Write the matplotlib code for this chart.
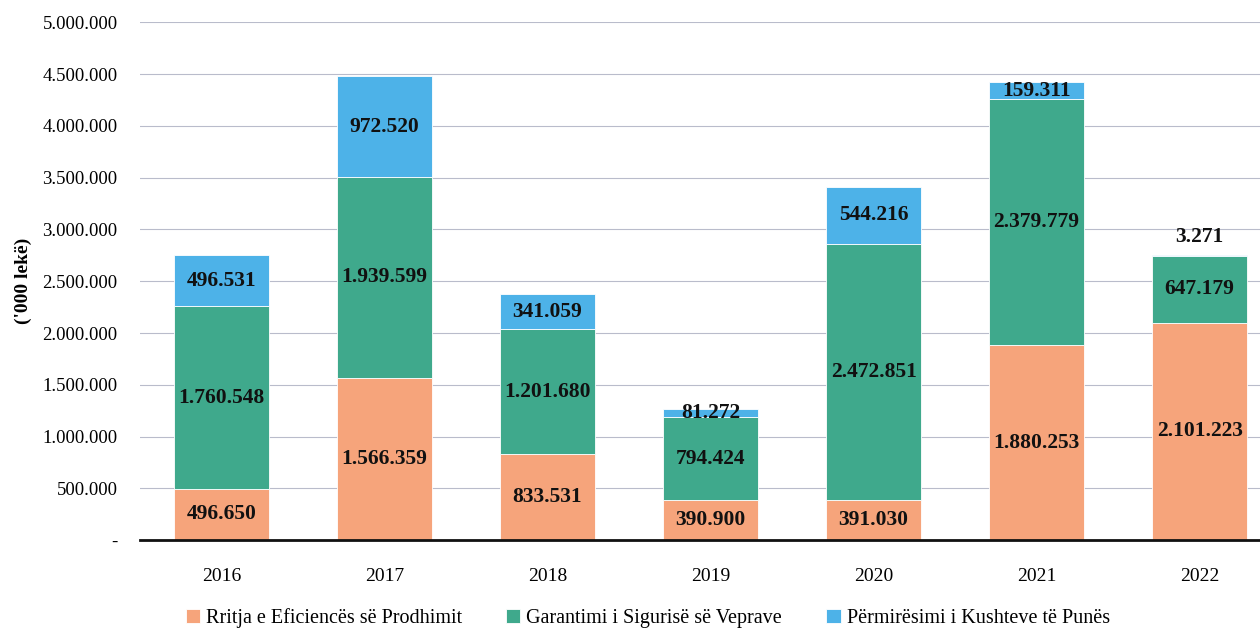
import matplotlib.pyplot as plt
import numpy as np

years = ['2016', '2017', '2018', '2019', '2020', '2021', '2022']
rritja = [496650, 1566359, 833531, 390900, 391030, 1880253, 2101223]
garantimi = [1760548, 1939599, 1201680, 794424, 2472851, 2379779, 647179]
permiresimi = [496531, 972520, 341059, 81272, 544216, 159311, 3271]
series_names = ['Rritja e Eficiencës së Prodhimit',
                'Garantimi i Sigurisë së Veprave',
                'Përmirësimi i Kushteve të Punës']
yticks = [0, 500000, 1000000, 1500000, 2000000, 2500000,
          3000000, 3500000, 4000000, 4500000, 5000000]

colors = ['#F6A47B', '#3FA98C', '#4DB2E8']
serif = ['Liberation Serif', 'DejaVu Serif']


def fmt(v):
    return f'{v:,}'.replace(',', '.')


fig = plt.figure(figsize=(12.6, 6.37), dpi=100)
ax = fig.add_axes([0.111, 0.152, 0.889, 0.813])

x = np.arange(len(years))
width = 0.58
bottom = np.zeros(len(years))
for vals, col, name in zip([rritja, garantimi, permiresimi], colors, series_names):
    vals = np.array(vals)
    ax.bar(x, vals, width, bottom=bottom, color=col, edgecolor='white',
           linewidth=0.6, label=name, zorder=3)
    for xi, b, v in zip(x, bottom, vals):
        if v < 20000:
            # tiny segment: label sits above the bar
            ax.annotate(fmt(v), (xi, b + v), xytext=(0, 6), textcoords='offset points',
                        ha='center', va='bottom', fontsize=15.5, fontweight='bold',
                        family=serif, color='#111111', zorder=4)
        else:
            ax.text(xi, b + v / 2, fmt(v), ha='center', va='center', fontsize=15.5,
                    fontweight='bold', family=serif, color='#111111', zorder=4)
    bottom = bottom + vals

ax.set_xlim(-0.5, 6.37)
ax.set_ylim(0, 5000000)
ax.set_yticks(yticks)
ax.set_yticklabels(['-'] + [fmt(t) for t in yticks[1:]], family=serif, fontsize=13.5)
ax.set_xticks(x)
ax.set_xticklabels(years, family=serif, fontsize=14)
ax.tick_params(axis='both', length=0)
ax.tick_params(axis='y', pad=16)
ax.tick_params(axis='x', pad=20)

ax.grid(axis='y', color='#b9bccb', linewidth=0.8, zorder=0)
for s in ['top', 'right', 'left']:
    ax.spines[s].set_visible(False)
ax.spines['bottom'].set_color('#111111')
ax.spines['bottom'].set_linewidth(2)
ax.spines['bottom'].set_zorder(5)

ax.set_ylabel("('000 lekë)", family=serif, fontsize=14, fontweight='bold')
ax.yaxis.set_label_coords(-0.096, 0.5)

fig.legend(loc='lower left', bbox_to_anchor=(0.133, -0.015), ncol=3, frameon=False,
           prop={'family': serif, 'size': 14.5}, handlelength=0.7, handleheight=0.7,
           handletextpad=0.3, columnspacing=2.2)

fig.savefig('out.png', dpi=100)
